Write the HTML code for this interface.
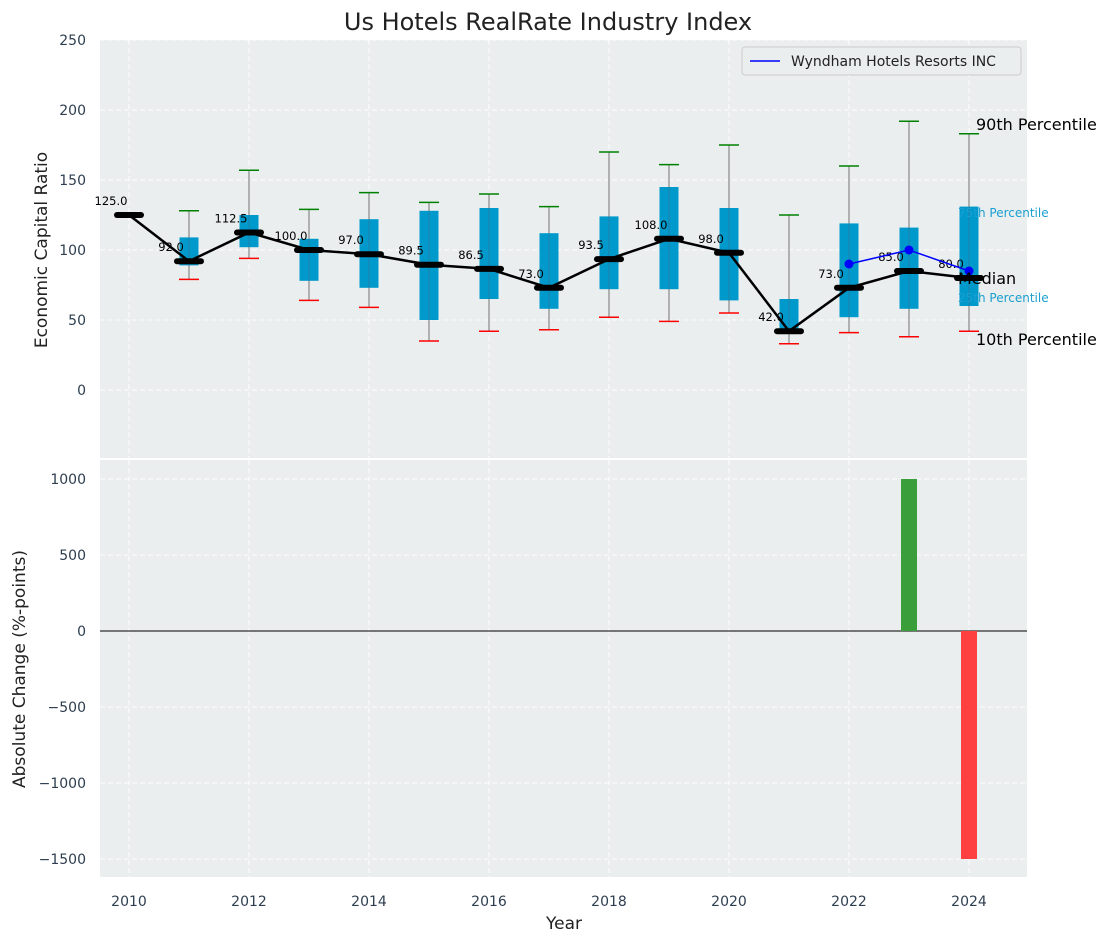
<!DOCTYPE html>
<html><head><meta charset="utf-8"><style>
body{margin:0;background:#fff;font-family:"Liberation Sans","DejaVu Sans",sans-serif}
svg text{font-family:"DejaVu Sans","Liberation Sans",sans-serif}
</style></head><body>
<svg id="c" width="1111" height="942" xmlns="http://www.w3.org/2000/svg"></svg>
<script>
const years=[2010,2011,2012,2013,2014,2015,2016,2017,2018,2019,2020,2021,2022,2023,2024];
const medians=[125,92,112.5,100,97,89.5,86.5,73,93.5,108,98,42,73,85,80];
const p25=[null,89,102,78,73,50,65,58,72,72,64,40,52,58,60];
const p75=[null,109,125,108,122,128,130,112,124,145,130,65,119,116,131];
const p10=[null,79,94,64,59,35,42,43,52,49,55,33,41,38,42];
const p90=[null,128,157,129,141,134,140,131,170,161,175,125,160,192,183];
const compYears=[2022,2023,2024];
const compVals=[90,100,85];
const chgYears=[2023,2024];
const chgVals=[1000,-1500];
const topTicks=[0,50,100,150,200,250];
const botTicks=[-1500,-1000,-500,0,500,1000];
const xTicks=[2010,2012,2014,2016,2018,2020,2022,2024];

const NS="http://www.w3.org/2000/svg",svg=document.getElementById('c');
function el(t,a,p){const e=document.createElementNS(NS,t);for(const k in a)e.setAttribute(k,a[k]);(p||svg).appendChild(e);return e;}
const L=100,R=1027,T1=40,B1=458,T2=460,B2=877;
const x=v=>129+(v-2010)*60;
const y1=v=>390-v*1.4;
const y2=v=>631-v*0.152;
const fmt=v=>String(v).replace('-','\u2212');

let e=el('rect',{x:L,y:T1,width:R-L,height:B1-T1,fill:'#eaeeee'});

e=el('rect',{x:L,y:T2,width:R-L,height:B2-T2,fill:'#eaeeee'});


xTicks.forEach(t=>{
 el('line',{x1:x(t),x2:x(t),y1:T1,y2:B1,stroke:'#fff','stroke-dasharray':'5,3','stroke-width':1});
 el('line',{x1:x(t),x2:x(t),y1:T2,y2:B2,stroke:'#fff','stroke-dasharray':'5,3','stroke-width':1});
 e=el('text',{x:x(t),y:906,'font-size':14,fill:'#2e3e50','text-anchor':'middle'});e.textContent=t;
 
});
topTicks.forEach(t=>{
 el('line',{x1:L,x2:R,y1:y1(t),y2:y1(t),stroke:'#fff','stroke-dasharray':'5,3'});
 e=el('text',{x:86,y:y1(t)+5,'font-size':14,fill:'#2e3e50','text-anchor':'end'});e.textContent=fmt(t);
 
});
botTicks.forEach(t=>{
 el('line',{x1:L,x2:R,y1:y2(t),y2:y2(t),stroke:'#fff','stroke-dasharray':'5,3'});
 e=el('text',{x:86,y:y2(t)+5,'font-size':14,fill:'#2e3e50','text-anchor':'end'});e.textContent=fmt(t);
 
});

years.forEach((yr,i)=>{
 if(p10[i]!==null){
  e=el('line',{x1:x(yr),x2:x(yr),y1:y1(p10[i]),y2:y1(p90[i]),stroke:'#888','stroke-width':1.2});
  
  e=el('rect',{x:x(yr)-9.5,y:y1(p75[i]),width:19,height:y1(p25[i])-y1(p75[i]),fill:'#0099cc'});
  
  el('line',{x1:x(yr),x2:x(yr),y1:y1(p25[i]),y2:y1(p75[i]),stroke:'#557',"stroke-opacity":0.4,'stroke-width':1});
  e=el('line',{x1:x(yr)-10,x2:x(yr)+10,y1:y1(p90[i]),y2:y1(p90[i]),stroke:'green','stroke-width':1.5});
  
  e=el('line',{x1:x(yr)-10,x2:x(yr)+10,y1:y1(p10[i]),y2:y1(p10[i]),stroke:'red','stroke-width':1.5});
  
 }
});
e=el('polyline',{points:years.map((yr,i)=>x(yr)+','+y1(medians[i])).join(' '),fill:'none',stroke:'#000','stroke-width':2.5});

years.forEach((yr,i)=>{
 e=el('line',{x1:x(yr)-12,x2:x(yr)+12,y1:y1(medians[i]),y2:y1(medians[i]),stroke:'#000','stroke-width':6,'stroke-linecap':'round'});
 
 e=el('text',{x:x(yr)-18,y:y1(medians[i])-10,'font-size':11.5,fill:'#000','text-anchor':'middle'});e.textContent=medians[i].toFixed(1);
 
});
e=el('polyline',{points:compYears.map((yr,i)=>x(yr)+','+y1(compVals[i])).join(' '),fill:'none',stroke:'blue','stroke-width':1.5});

compYears.forEach((yr,i)=>{e=el('circle',{cx:x(yr),cy:y1(compVals[i]),r:4.5,fill:'blue'});
 });

const lab=(t,xx,yy,s,c,n)=>{e=el('text',{x:xx,y:yy,'font-size':s,fill:c});e.textContent=t;};
lab('90th Percentile',976,130,16,'#000','p90-annotation');
lab('75th Percentile',958,217,12,'#1a9fd0','p75-annotation');
lab('Median',958,284,16,'#000','median-annotation');
lab('25th Percentile',958,302,12,'#1a9fd0','p25-annotation');
lab('10th Percentile',976,345,16,'#000','p10-annotation');

const lg=el('g',{});
el('rect',{x:742,y:47,width:279,height:28,rx:3,fill:'#eaeeee',stroke:'#ccc'},lg);
el('line',{x1:750,x2:780,y1:61,y2:61,stroke:'blue','stroke-width':1.5},lg);
e=el('text',{x:791,y:66,'font-size':14,fill:'#222'},lg);e.textContent='Wyndham Hotels Resorts INC';

el('line',{x1:L,x2:R,y1:y2(0),y2:y2(0),stroke:'#000','stroke-width':1});
chgYears.forEach((yr,i)=>{
 const v=chgVals[i];
 e=el('rect',{x:x(yr)-8,y:Math.min(y2(v),y2(0)),width:16,height:Math.abs(y2(v)-y2(0)),fill:v>=0?'#3a9e3a':'#ff4040'});
 
});

lab('Us Hotels RealRate Industry Index',548,30,24,'#222','chart-title');svg.lastChild.setAttribute('text-anchor','middle');
lab('Year',564,929,17,'#222','x-axis-title');svg.lastChild.setAttribute('text-anchor','middle');
e=el('text',{x:0,y:0,'font-size':17,fill:'#222','text-anchor':'middle',transform:'translate(47,250) rotate(-90)'});e.textContent='Economic Capital Ratio';

e=el('text',{x:0,y:0,'font-size':17,fill:'#222','text-anchor':'middle',transform:'translate(25,669) rotate(-90)'});e.textContent='Absolute Change (%-points)';

</script>
</body></html>
